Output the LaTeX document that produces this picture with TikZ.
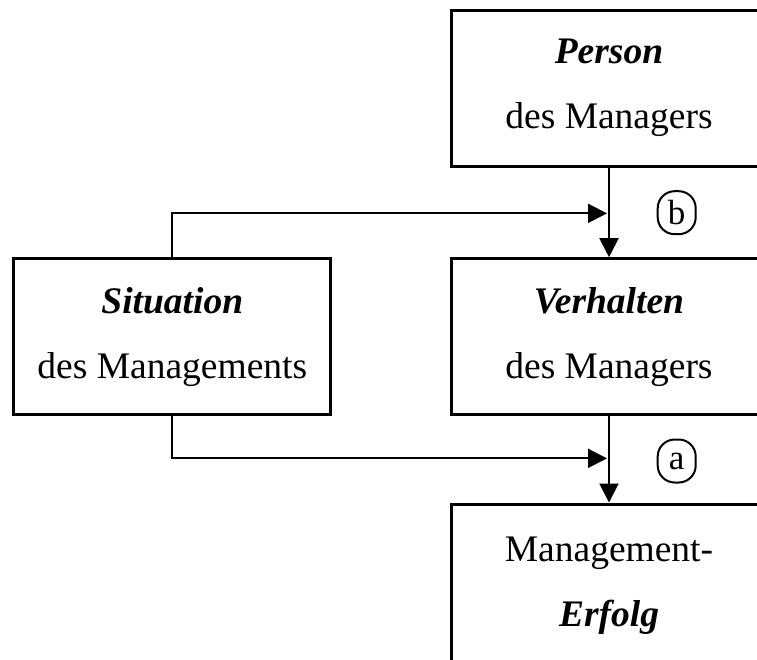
\documentclass[tikz,border=0pt]{standalone}
\usepackage{fontspec}
\setmainfont{Liberation Serif}
\usetikzlibrary{arrows.meta,calc}
\begin{document}
\begin{tikzpicture}[x=1pt,y=-1pt,
  box/.style={draw,line width=3pt,minimum width=316pt,minimum height=156pt,align=center,inner sep=0pt,font=\fontsize{37.5}{65}\selectfont},
  lbl/.style={draw,line width=2pt,rounded corners=17pt,minimum width=38pt,minimum height=43pt,inner sep=0pt,font=\fontsize{35}{40}\selectfont},
  arr/.style={line width=2pt,-{Triangle[length=19pt,width=19pt]}}]
\useasboundingbox (0,0) rectangle (757,659);
\clip (0,0) rectangle (757,659);
\node[box] (person) at (609,88) {\textbf{\textit{Person}}\\des Managers};
\node[box] (verhalten) at (609,336.7) {\textbf{\textit{Verhalten}}\\des Managers};
\node[box,minimum width=316.7pt] (situation) at (172.3,336.7) {\textbf{\textit{Situation}}\\des Managements};
\node[box,minimum height=164pt] (erfolg) at (609,586) {Management-\\\textbf{\textit{Erfolg}}};
\node[lbl] (b) at (676.7,212.7) {b};
\node[lbl] (a) at (676.7,461) {a};
\draw[arr] (person.south) -- (verhalten.north);
\draw[arr] (verhalten.south) -- (erfolg.north);
\coordinate (bj) at ($(person.south)!0.5!(verhalten.north)+(-2,1)$);
\coordinate (aj) at ($(verhalten.south)!0.5!(erfolg.north)+(-2,-1)$);
\draw[arr] (situation.north) |- (bj);
\draw[arr] (situation.south) |- (aj);
\end{tikzpicture}
\end{document}
